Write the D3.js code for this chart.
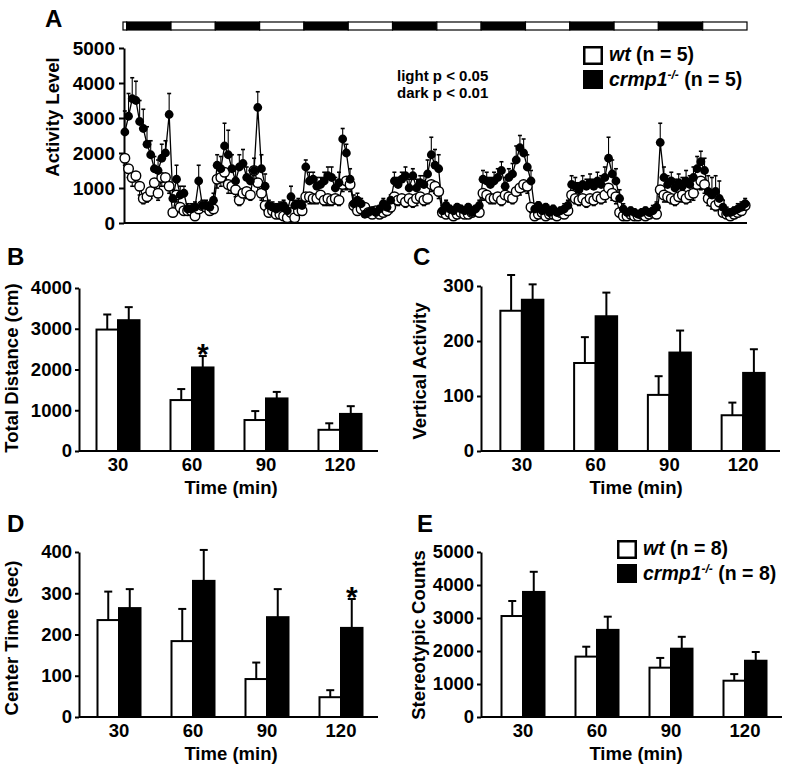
<!DOCTYPE html>
<html>
<head>
<meta charset="utf-8">
<script src="https://cdn.jsdelivr.net/npm/d3@7"></script>
<style>
  body { margin: 0; background: #fff; }
  svg { font-family: "Liberation Sans", Arial, sans-serif; font-weight: bold; }
</style>
</head>
<body>
<svg id="fig" width="787" height="770"></svg>
<script>
// ---- panel A: hourly activity, 169 hours ----
// light/dark phase borders in hours (first phase is light, then alternate)
const phaseBounds = [0, 1, 13, 25, 37, 49, 61, 73, 85, 97, 109, 121, 133, 145, 157, 169];

const activityCrmp = [
  2600, 3050, 3550, 3500, 2900, 2700, 2250, 1950, 1550, 1500, 1850, 2000, 3100,
  700, 1250, 800, 850, 400, 400, 450, 1200, 500, 500, 450, 650,
  1650, 1550, 2200, 1950, 1550, 1200, 1600, 1700, 1300, 1200, 1500, 3300,
  1550, 1050, 500, 450, 400, 450, 500, 350, 750, 500, 550, 500,
  1600, 1200, 1250, 1050, 1100, 1200, 1350, 1300, 1000, 1150, 2400, 2000,
  1250, 550, 650, 550, 250, 300, 350, 300, 400, 550, 450, 650,
  1200, 1100, 1250, 1350, 1000, 1350, 1000, 1150, 1100, 1400, 1950, 1650,
  1550, 350, 500, 400, 350, 450, 400, 350, 450, 300, 400, 500,
  1250, 1200, 1100, 1200, 1300, 1500, 1050, 1300, 1400, 1800, 2150, 2000,
  1600, 1200, 400, 500, 350, 450, 300, 400, 300, 350, 400, 500,
  1100, 1050, 950, 1100, 1050, 1150, 1050, 1200, 1100, 1300, 1850, 1400,
  1200, 700, 400, 300, 350, 300, 250, 300, 350, 300, 350, 450,
  2300, 1300, 1100, 1200, 1000, 1150, 1050, 1200, 1100, 1300, 1550, 1750,
  1500, 900, 800, 900, 700, 450, 300, 300, 350, 400, 450, 550
];
const activityCrmpSem = [
  600, 650, 600, 550, 600, 550, 500, 400, 350, 300, 400, 350, 600,
  250, 400, 250, 200, 150, 150, 150, 450, 150, 150, 150, 200,
  300, 350, 650, 700, 400, 350, 350, 400, 300, 300, 350, 450,
  400, 350, 150, 150, 150, 150, 150, 150, 300, 150, 150, 150,
  200, 250, 200, 250, 200, 250, 250, 300, 300, 300, 300, 250,
  300, 250, 200, 150, 100, 100, 100, 100, 100, 150, 150, 150,
  250, 200, 200, 250, 250, 200, 250, 200, 250, 400, 500, 450,
  400, 150, 150, 100, 100, 100, 100, 100, 100, 100, 100, 150,
  250, 250, 200, 250, 250, 250, 250, 250, 300, 400, 350, 400,
  350, 300, 150, 100, 150, 100, 100, 100, 100, 100, 150, 150,
  250, 250, 200, 250, 200, 250, 200, 250, 250, 300, 600, 400,
  350, 250, 150, 100, 100, 100, 100, 100, 100, 100, 150, 150,
  550, 300, 250, 250, 250, 250, 250, 300, 250, 300, 350, 300,
  350, 450, 500, 450, 500, 200, 150, 100, 100, 150, 150, 150
];
const activityWt = [
  1850, 1550, 1300, 1350, 1050, 700, 750, 900, 1150, 850, 1300, 1300, 1050,
  300, 800, 450, 350, 350, 350, 200, 400, 500, 450, 350, 400,
  1250, 1300, 1450, 1100, 1050, 950, 650, 850, 900, 800, 1500, 1150,
  850, 500, 300, 350, 250, 250, 200, 150, 300, 150, 350, 350,
  750, 750, 700, 700, 800, 650, 700, 650, 700, 650, 1100, 1200,
  1100, 500, 350, 400, 450, 300, 250, 350, 250, 300, 350, 450,
  750, 650, 700, 600, 700, 600, 700, 750, 650, 700, 1100, 1050,
  900, 300, 250, 300, 200, 250, 300, 250, 250, 300, 350, 300,
  850, 800, 700, 700, 750, 650, 800, 750, 700, 900, 1000, 1100,
  1050, 450, 200, 250, 300, 200, 250, 250, 200, 300, 250, 350,
  800, 700, 650, 700, 600, 700, 650, 750, 700, 800, 1000, 850,
  750, 300, 200, 200, 250, 200, 200, 250, 200, 250, 300, 250,
  950, 800, 750, 700, 650, 750, 800, 700, 800, 850, 1100, 1200,
  1100, 700, 600, 500, 600, 300, 250, 200, 250, 300, 350, 500
];
const activityWtSem = [
  200, 250, 250, 300, 250, 150, 150, 200, 200, 200, 250, 250, 200,
  100, 200, 150, 100, 100, 100, 100, 100, 150, 100, 100, 100,
  250, 250, 300, 250, 200, 200, 150, 200, 200, 150, 300, 250,
  200, 150, 100, 100, 100, 100, 100, 50, 100, 50, 100, 100,
  150, 200, 150, 150, 200, 150, 200, 150, 150, 150, 200, 250,
  200, 150, 100, 100, 100, 100, 100, 100, 100, 100, 100, 150,
  150, 150, 150, 150, 150, 150, 200, 150, 150, 150, 200, 200,
  200, 100, 100, 100, 50, 100, 100, 50, 100, 100, 100, 100,
  200, 150, 150, 150, 150, 150, 150, 150, 150, 200, 200, 200,
  200, 150, 50, 100, 100, 50, 100, 100, 50, 100, 100, 100,
  150, 150, 150, 150, 150, 150, 150, 150, 150, 200, 200, 200,
  200, 100, 50, 50, 100, 50, 50, 100, 50, 100, 100, 100,
  200, 200, 150, 150, 150, 150, 200, 150, 200, 200, 250, 250,
  250, 200, 200, 150, 200, 100, 100, 50, 100, 100, 100, 150
];

// ---- panels B-E: 30 min bins ----
const timeBins = ["30", "60", "90", "120"];

const distWt = [2980, 1250, 760, 520];
const distWtSem = [370, 270, 220, 160];
const distCrmp = [3210, 2050, 1290, 910];
const distCrmpSem = [320, 280, 160, 190];

const vertWt = [255, 160, 102, 65];
const vertWtSem = [65, 47, 34, 23];
const vertCrmp = [275, 245, 179, 142];
const vertCrmpSem = [28, 43, 40, 43];

const centerWt = [235, 184, 92, 48];
const centerWtSem = [69, 78, 40, 17];
const centerCrmp = [264, 330, 242, 216];
const centerCrmpSem = [46, 75, 68, 70];

const stereoWt = [3060, 1830, 1495, 1100];
const stereoWtSem = [455, 300, 295, 200];
const stereoCrmp = [3790, 2640, 2070, 1705];
const stereoCrmpSem = [610, 400, 360, 265];

const svg = d3.select("#fig");

function styleAxis(g, size) {
  g.selectAll("path, line").attr("stroke", "#000").attr("stroke-width", 2);
  g.selectAll("text").attr("font-size", size).attr("font-weight", "bold")
    .attr("font-family", "'Liberation Sans', Arial, sans-serif").attr("fill", "#000");
}

function legend(x, y, n) {
  const g = svg.append("g");
  g.append("rect").attr("x", x + 1.25).attr("y", y + 1.25).attr("width", 17.5).attr("height", 16.5)
    .attr("fill", "#fff").attr("stroke", "#000").attr("stroke-width", 2.5);
  g.append("rect").attr("x", x).attr("y", y + 24).attr("width", 20).attr("height", 19).attr("fill", "#000");
  const t1 = g.append("text").attr("x", x + 26).attr("y", y + 15).attr("font-size", 19.5);
  t1.append("tspan").attr("font-style", "italic").text("wt");
  t1.append("tspan").text(` (n = ${n})`);
  const t2 = g.append("text").attr("x", x + 26).attr("y", y + 40).attr("font-size", 19.5);
  t2.append("tspan").attr("font-style", "italic").text("crmp1");
  t2.append("tspan").attr("font-style", "italic").attr("font-size", 12).attr("dy", -7).text("-/-");
  t2.append("tspan").attr("dy", 7).text(" (n = " + n + ")");
}

// ---------- panel A ----------
const xA = d3.scaleLinear().domain([0, 169]).range([123, 747]);
const yA = d3.scaleLinear().domain([0, 5000]).range([223, 48]);
const gA = svg.append("g");

gA.selectAll(".phase")
  .data(d3.pairs(phaseBounds))
  .join("rect")
  .attr("x", d => xA(d[0]))
  .attr("width", d => xA(d[1]) - xA(d[0]))
  .attr("y", 22).attr("height", 8)
  .attr("fill", (d, i) => i % 2 ? "#000" : "#fff")
  .attr("stroke", "#000").attr("stroke-width", 1.2);

const axA = gA.append("g").attr("transform", "translate(124,0)")
  .call(d3.axisLeft(yA).tickValues([0, 1000, 2000, 3000, 4000, 5000]).tickFormat(d3.format("d"))
    .tickSize(5).tickSizeOuter(0).tickPadding(4));
styleAxis(axA, 19);
gA.append("line").attr("x1", 124).attr("x2", 747).attr("y1", yA(0)).attr("y2", yA(0))
  .attr("stroke", "#000").attr("stroke-width", 2);

const lineA = d3.line().x((d, i) => xA(i + 0.5)).y(d => yA(d));
gA.append("path").attr("d", lineA(activityWt)).attr("fill", "none").attr("stroke", "#000").attr("stroke-width", 1.3);
gA.append("path").attr("d", lineA(activityCrmp)).attr("fill", "none").attr("stroke", "#000").attr("stroke-width", 1.3);

function errA(values, sems, dir) {
  const g = gA.append("g").attr("stroke", "#000").attr("stroke-width", 1.1);
  values.forEach((v, i) => {
    const x = xA(i + 0.5), y1 = yA(v), y2 = yA(v + dir * sems[i]);
    g.append("line").attr("x1", x).attr("x2", x).attr("y1", y1).attr("y2", y2);
    g.append("line").attr("x1", x - 2).attr("x2", x + 2).attr("y1", y2).attr("y2", y2).attr("stroke-width", 1.6);
  });
}
errA(activityCrmp, activityCrmpSem, 1);
errA(activityWt, activityWtSem, -1);

gA.append("g").selectAll("circle").data(activityWt).join("circle")
  .attr("cx", (d, i) => xA(i + 0.5)).attr("cy", d => yA(d)).attr("r", 4.8)
  .attr("fill", "#fff").attr("stroke", "#000").attr("stroke-width", 1.4);
gA.append("g").selectAll("circle").data(activityCrmp).join("circle")
  .attr("cx", (d, i) => xA(i + 0.5)).attr("cy", d => yA(d)).attr("r", 4.4)
  .attr("fill", "#000");

svg.append("text").attr("x", 45).attr("y", 27).attr("font-size", 24).text("A");
svg.append("text").attr("transform", "translate(59,117) rotate(-90)").attr("text-anchor", "middle")
  .attr("font-size", 18.5).text("Activity Level");
svg.append("text").attr("x", 397).attr("y", 81).attr("font-size", 15).text("light p < 0.05");
svg.append("text").attr("x", 397).attr("y", 98).attr("font-size", 15).text("dark p < 0.01");
legend(583, 46, 5);

// ---------- bar panels ----------
function barPanel(o) {
  const g = svg.append("g");
  const x = d3.scaleBand().domain(timeBins).range(o.band);
  const sub = d3.scaleBand().domain(["wt", "crmp"]).range([-21.5, 21.5]);
  const y = d3.scaleLinear().domain([0, o.max]).range(o.yRange);
  const rows = timeBins.map((t, i) => [
    { t, k: "wt", v: o.wt[i], s: o.wtSem[i] },
    { t, k: "crmp", v: o.crmp[i], s: o.crmpSem[i] }
  ]).flat();
  const cx = d => x(d.t) + x.bandwidth() / 2 + sub(d.k) + sub.bandwidth() / 2;

  // error bars (upward only)
  const eg = g.append("g").attr("stroke", "#000").attr("stroke-width", 2);
  rows.forEach(d => {
    eg.append("line").attr("x1", cx(d)).attr("x2", cx(d)).attr("y1", y(d.v)).attr("y2", y(d.v + d.s));
    eg.append("line").attr("x1", cx(d) - 4).attr("x2", cx(d) + 4).attr("y1", y(d.v + d.s)).attr("y2", y(d.v + d.s));
  });

  g.selectAll(".bar").data(rows).join("rect")
    .attr("x", d => x(d.t) + x.bandwidth() / 2 + sub(d.k))
    .attr("width", sub.bandwidth())
    .attr("y", d => y(d.v))
    .attr("height", d => y(0) - y(d.v))
    .attr("fill", d => d.k === "wt" ? "#fff" : "#000")
    .attr("stroke", "#000").attr("stroke-width", 2);

  const ay = g.append("g").attr("transform", `translate(${o.axisX},0)`)
    .call(d3.axisLeft(y).tickValues(o.ticks).tickFormat(d3.format("d"))
      .tickSize(4).tickSizeOuter(0).tickPadding(3));
  styleAxis(ay, 18.5);

  const ax = g.append("g").attr("transform", `translate(0,${y(0)})`)
    .call(d3.axisBottom(x).tickSize(0).tickPadding(7));
  ax.select(".domain").remove();
  styleAxis(ax, 18.5);
  g.append("line").attr("x1", o.axisX).attr("x2", o.axisEnd).attr("y1", y(0)).attr("y2", y(0))
    .attr("stroke", "#000").attr("stroke-width", 2);

  (o.stars || []).forEach(t => {
    const d = rows.find(r => r.t === t && r.k === "crmp");
    g.append("text").attr("x", cx(d)).attr("y", y(d.v + d.s) + 8).attr("text-anchor", "middle")
      .attr("font-size", 30).text("*");
  });

  svg.append("text").attr("x", o.letter[0]).attr("y", o.letter[1]).attr("font-size", 24).text(o.letterText);
  svg.append("text").attr("transform", `translate(${o.yTitle[0]},${o.yTitle[1]}) rotate(-90)`)
    .attr("text-anchor", "middle").attr("font-size", 18.5).text(o.yTitleText);
  svg.append("text").attr("x", o.xTitle[0]).attr("y", o.xTitle[1]).attr("text-anchor", "middle")
    .attr("font-size", 18.5).text("Time (min)");
}

barPanel({
  band: [81, 377], axisX: 79, axisEnd: 378, max: 4000, yRange: [451, 288],
  ticks: [0, 1000, 2000, 3000, 4000],
  wt: distWt, wtSem: distWtSem, crmp: distCrmp, crmpSem: distCrmpSem, stars: ["60"],
  letter: [7, 265], letterText: "B", yTitle: [18, 368], yTitleText: "Total Distance (cm)", xTitle: [231, 494]
});
barPanel({
  band: [485, 780], axisX: 481, axisEnd: 780, max: 300, yRange: [451, 286],
  ticks: [0, 100, 200, 300],
  wt: vertWt, wtSem: vertWtSem, crmp: vertCrmp, crmpSem: vertCrmpSem,
  letter: [413, 265], letterText: "C", yTitle: [426, 371], yTitleText: "Vertical Activity", xTitle: [636, 494]
});
barPanel({
  band: [82, 378], axisX: 79, axisEnd: 378, max: 400, yRange: [717, 552],
  ticks: [0, 100, 200, 300, 400],
  wt: centerWt, wtSem: centerWtSem, crmp: centerCrmp, crmpSem: centerCrmpSem, stars: ["120"],
  letter: [7, 532], letterText: "D", yTitle: [18, 638], yTitleText: "Center Time (sec)", xTitle: [231, 760]
});
barPanel({
  band: [486, 782], axisX: 481, axisEnd: 782, max: 5000, yRange: [717, 552],
  ticks: [0, 1000, 2000, 3000, 4000, 5000],
  wt: stereoWt, wtSem: stereoWtSem, crmp: stereoCrmp, crmpSem: stereoCrmpSem,
  letter: [417, 532], letterText: "E", yTitle: [425, 635], yTitleText: "Stereotypic Counts", xTitle: [636, 760]
});
legend(617, 540, 8);
</script>
</body>
</html>
